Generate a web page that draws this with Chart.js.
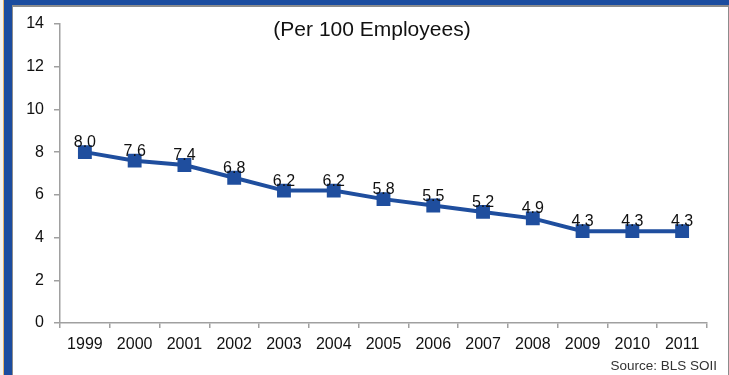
<!DOCTYPE html>
<html>
<head>
<meta charset="utf-8">
<script src="https://cdn.jsdelivr.net/npm/chart.js@4/dist/chart.umd.min.js"></script>
<style>
  html, body { margin: 0; padding: 0; background: #fff; }
  #frame { position: relative; width: 729px; height: 375px; overflow: hidden; background: #fff; }
  .bar { position: absolute; }
  #wrap { position: absolute; left: 0; top: 0; width: 729px; height: 375px; }
</style>
</head>
<body>
<div id="frame">
  <div class="bar" style="left:0;top:0;width:729px;height:5px;background:#1b4c9f;"></div>
  <div class="bar" style="left:0;top:0;width:3px;height:375px;background:#f2f2f2;"></div>
  <div class="bar" style="left:3px;top:0;width:1px;height:375px;background:#e6b46a;"></div>
  <div class="bar" style="left:4px;top:0;width:8px;height:375px;background:#1b4c9f;"></div>
  <div class="bar" style="left:12px;top:5px;width:717px;height:2px;background:#8c8c8c;"></div>
  <div class="bar" style="left:12px;top:5px;width:1px;height:370px;background:#8c8c8c;"></div>
  <div class="bar" style="left:728px;top:5px;width:1px;height:370px;background:#8c8c8c;"></div>
  <div id="wrap"><canvas id="c" width="729" height="375"></canvas></div>
</div>
<script>
// Injury and illness incidence rate, per 100 employees
const years = ['1999','2000','2001','2002','2003','2004','2005','2006','2007','2008','2009','2010','2011'];
const rates = [8.0, 7.6, 7.4, 6.8, 6.2, 6.2, 5.8, 5.5, 5.2, 4.9, 4.3, 4.3, 4.3];
const yTicks = [0, 2, 4, 6, 8, 10, 12, 14];

const titleText = '(Per 100 Employees)';
const sourceText = 'Source: BLS SOII';

const FONT = '"Liberation Sans", Arial, sans-serif';
const LINE_BLUE = '#1f4e9e';
const AXIS_GREY = '#a0a0a0';

// Writes each value above its marker, plus the in-plot heading and the source note
const annotations = {
  id: 'annotations',
  afterDatasetsDraw(chart) {
    const ctx = chart.ctx;
    const meta = chart.getDatasetMeta(0);
    ctx.save();
    ctx.fillStyle = '#111';
    ctx.font = '16px ' + FONT;
    ctx.textAlign = 'center';
    ctx.textBaseline = 'alphabetic';
    meta.data.forEach((pt, i) => {
      ctx.fillText(rates[i].toFixed(1), pt.x, pt.y - 5);
    });
    ctx.font = '21px ' + FONT;
    ctx.textBaseline = 'middle';
    ctx.fillText(titleText, 372, 30);
    ctx.font = '13.5px ' + FONT;
    ctx.fillStyle = '#333';
    ctx.textAlign = 'right';
    ctx.fillText(sourceText, 717, 366);
    ctx.restore();
  }
};

new Chart(document.getElementById('c'), {
  type: 'line',
  data: {
    labels: years,
    datasets: [{
      data: rates,
      borderColor: LINE_BLUE,
      backgroundColor: LINE_BLUE,
      borderWidth: 4,
      pointStyle: 'rect',
      pointRadius: 9.8,
      pointHoverRadius: 9.8,
      pointBorderWidth: 0,
      tension: 0,
      fill: false
    }]
  },
  options: {
    responsive: false,
    animation: false,
    devicePixelRatio: 1,
    layout: { padding: { top: 24, right: 22, left: 0, bottom: 0 } },
    plugins: { legend: { display: false }, tooltip: { enabled: false }, title: { display: false } },
    scales: {
      x: {
        offset: true,
        grid: { offset: true, drawOnChartArea: false, drawTicks: true, tickLength: 5, color: AXIS_GREY, lineWidth: 1.5 },
        border: { color: AXIS_GREY, width: 1.5 },
        ticks: { color: '#111', font: { family: FONT, size: 16 }, padding: 7, maxRotation: 0, autoSkip: false },
        afterFit(scale) { scale.height = 52; }
      },
      y: {
        min: 0,
        max: 14,
        afterBuildTicks(scale) { scale.ticks = yTicks.map(v => ({ value: v })); },
        grid: { drawOnChartArea: false, drawTicks: true, tickLength: 6, color: AXIS_GREY, lineWidth: 1.5 },
        border: { color: AXIS_GREY, width: 1.5 },
        ticks: { color: '#111', font: { family: FONT, size: 16 }, padding: 10 },
        afterFit(scale) { scale.width = 60; }
      }
    }
  },
  plugins: [annotations]
});
</script>
</body>
</html>
